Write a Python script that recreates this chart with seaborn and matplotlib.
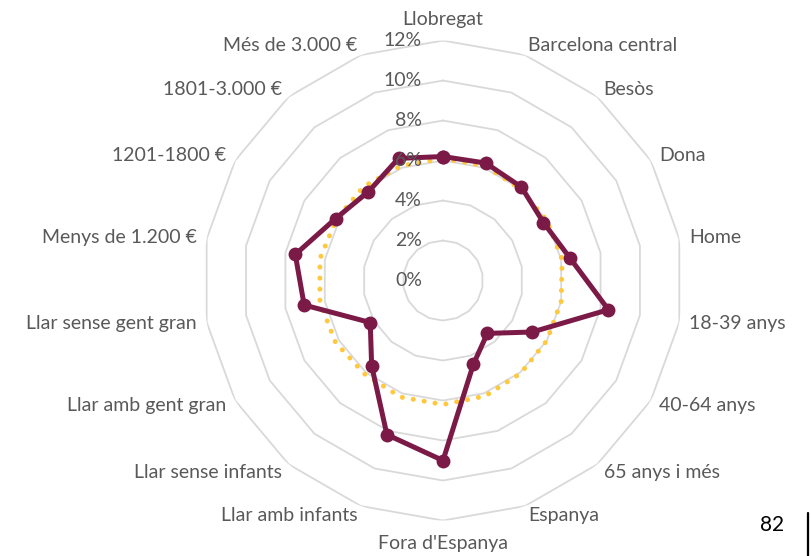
import numpy as np
import pandas as pd
import matplotlib
matplotlib.use("Agg")
import matplotlib.pyplot as plt
import matplotlib.transforms as mtransforms
from matplotlib.lines import Line2D
import seaborn as sns

# Profile categories, clockwise from the top
categories = [
    "Llobregat", "Barcelona central", "Besòs", "Dona", "Home",
    "18-39 anys", "40-64 anys", "65 anys i més", "Espanya", "Fora d'Espanya",
    "Llar amb infants", "Llar sense infants", "Llar amb gent gran",
    "Llar sense gent gran", "Menys de 1.200 €", "1201-1800 €",
    "1801-3.000 €", "Més de 3.000 €",
]
# Share (%) of the highlighted group in each category
group_values = [6.2, 6.25, 6.1, 5.8, 6.45, 8.4, 5.15, 3.45, 4.45, 9.0,
                8.2, 5.55, 4.2, 7.05, 7.5, 6.2, 5.8, 6.5]
# Reference share (%) for the whole population
reference_values = [6.1, 6.1, 6.0, 6.0, 6.05, 6.0, 6.0, 6.05, 6.15, 6.2,
                    6.2, 6.1, 6.2, 6.25, 6.25, 6.15, 6.15, 6.1]
ring_values = [0, 2, 4, 6, 8, 10, 12]
ring_labels = ["0%", "2%", "4%", "6%", "8%", "10%", "12%"]
page_number = "82"

MAROON = "#7B1A47"
YELLOW = "#FFC83D"
GRID = "#D9D9D9"
TEXT = "#595959"
FS = 14

sns.set_theme(style="white")
plt.rcParams["font.family"] = ["Lato", "DejaVu Sans"]

n = len(categories)
theta = np.linspace(0, 2 * np.pi, n, endpoint=False)
theta_closed = np.append(theta, 2 * np.pi)

def closed(vals):
    return np.append(np.asarray(vals, dtype=float), vals[0])

df_ref = pd.DataFrame({"theta": theta_closed, "value": closed(reference_values)})
df_grp = pd.DataFrame({"theta": theta_closed, "value": closed(group_values)})

fig = plt.figure(figsize=(8.12, 5.56), dpi=100)
ax = fig.add_axes([0.2500, 0.0638, 0.5911, 0.8633], projection="polar")
ax.set_theta_zero_location("N")
ax.set_theta_direction(-1)
ax.set_ylim(0, 12)
ax.grid(False)
ax.set_xticks([])
ax.set_yticks([])
ax.spines["polar"].set_visible(False)
ax.patch.set_alpha(0)

# Polygonal rings
for r in ring_values[1:]:
    ax.plot(theta_closed, [r] * (n + 1), color=GRID, lw=1.3, zorder=0)

# Reference series: round dotted line
sns.lineplot(data=df_ref, x="theta", y="value", sort=False, estimator=None,
             ax=ax, color=YELLOW, lw=3.6, linestyle=(0, (0.01, 2.2)),
             dash_capstyle="round", zorder=2)

# Highlighted group: solid line with markers
sns.lineplot(data=df_grp, x="theta", y="value", sort=False, estimator=None,
             ax=ax, color=MAROON, lw=3.6, marker="o", markersize=10,
             markeredgewidth=0, zorder=3)
ax.set_xlabel("")
ax.set_ylabel("")

# Radial value labels, left of the vertical axis
lab_tr = mtransforms.offset_copy(ax.transData, fig=fig, x=-21, y=0, units="dots")
for r, lab in zip(ring_values, ring_labels):
    ax.text(0, r, lab, transform=lab_tr, ha="right", va="center",
            fontsize=FS, color=TEXT, zorder=4)

# Category labels around the chart
for i, (t, lab) in enumerate(zip(theta, categories)):
    if i == 0:
        ax.text(t, 12.65, lab, ha="center", va="bottom", fontsize=FS, color=TEXT)
    elif i == n // 2:
        ax.text(t, 12.7, lab, ha="center", va="top", fontsize=FS, color=TEXT)
    elif i < n // 2:
        ax.text(t, 12.5, lab, ha="left", va="center", fontsize=FS, color=TEXT)
    else:
        ax.text(t, 12.5, lab, ha="right", va="center", fontsize=FS, color=TEXT)

# Page number and margin rule
fig.text(772 / 812, 1 - 525 / 556, page_number, ha="center", va="center",
         fontsize=15, color="black")
fig.add_artist(Line2D([808 / 812, 808 / 812], [0, 1 - 513 / 556],
                      transform=fig.transFigure, color="black", lw=1.6))

fig.savefig("out.png", dpi=100)
